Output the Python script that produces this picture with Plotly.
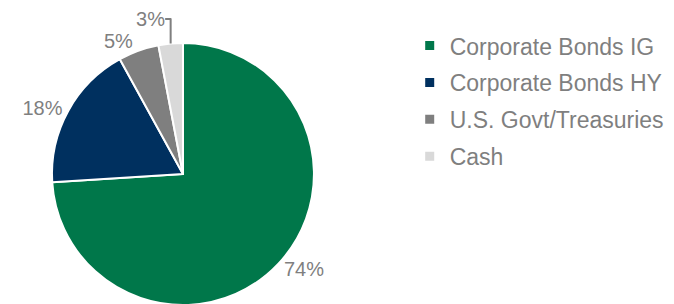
import plotly.graph_objects as go

categories = ["Corporate Bonds IG", "Corporate Bonds HY", "U.S. Govt/Treasuries", "Cash"]
values = [74, 18, 5, 3]
colors = ["#00774A", "#00305F", "#7F7F7F", "#D9D9D9"]

FONT = "Liberation Sans, Arial, sans-serif"

fig = go.Figure()
fig.add_trace(go.Pie(
    labels=categories,
    values=values,
    sort=False,
    direction="clockwise",
    rotation=0,
    marker=dict(colors=colors, line=dict(color="white", width=2)),
    textposition="outside",
    texttemplate="%{percent:.0%}",
    textfont=dict(size=20, color="#7F7F7F", family=FONT),
    domain=dict(x=[0.0652, 0.4540], y=[0.0230, 0.8848]),
    showlegend=False,
    automargin=False,
))

# legend entries (square markers like the original)
for i, (name, col) in enumerate(zip(categories, colors)):
    fig.add_trace(go.Scatter(
        x=[None], y=[None], mode="markers", name=name,
        marker=dict(symbol="square", size=9, color=col),
        legendgroup=f"g{i}", showlegend=True,
    ))

fig.update_layout(
    width=674, height=304,
    margin=dict(l=0, r=0, t=0, b=0, pad=0, autoexpand=False),
    paper_bgcolor="white",
    plot_bgcolor="white",
    font=dict(family=FONT, color="#7F7F7F", size=20),
    xaxis=dict(visible=False),
    yaxis=dict(visible=False),
    legend=dict(x=0.596, y=0.947, xanchor="left", yanchor="top",
                font=dict(size=23, color="#7F7F7F", family=FONT),
                itemwidth=30, tracegroupgap=4),
    showlegend=True,
)

fig.write_html("out.html")
